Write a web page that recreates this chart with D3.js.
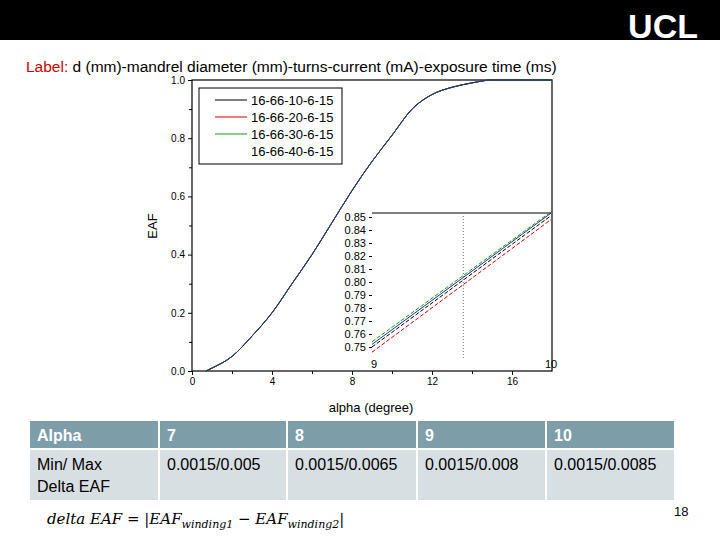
<!DOCTYPE html>
<html><head><meta charset="utf-8">
<script src="https://cdn.jsdelivr.net/npm/d3@7"></script>
<style>body{margin:0;background:#fff;font-family:Arial,"Liberation Sans",sans-serif}</style>
</head><body>
<svg id="slide" width="720" height="540"></svg>
<script>
// main curve (all four windings overlap)
const alpha = [0.7, 1, 2, 3, 4, 5, 6, 7, 8, 9, 10, 11, 12, 13, 14, 15, 16, 18];
const eaf   = [0, 0.01, 0.05, 0.12, 0.2, 0.3, 0.4, 0.51, 0.62, 0.72, 0.81, 0.9, 0.95, 0.975, 0.99, 1.0, 1.0, 1.0];
const seriesNames = ["16-66-10-6-15", "16-66-20-6-15", "16-66-30-6-15", "16-66-40-6-15"];
const seriesColors = ["#000000", "#cc0000", "#00aa00", "#2a2a9a"];
// inset: zoom between alpha 9 and 10
const insetX = [9, 10];
const insetY = [[0.750, 0.851], [0.746, 0.848], [0.754, 0.854], [0.752, 0.853]];
const tableHead = ["Alpha", "7", "8", "9", "10"];
const tableRow = ["Min/ Max\nDelta EAF", "0.0015/0.005", "0.0015/0.0065", "0.0015/0.008", "0.0015/0.0085"];

const svg = d3.select("#slide");

/* header bar */
svg.append("rect").attr("width", 720).attr("height", 40).attr("fill", "#000");
svg.append("text").attr("x", 698).attr("y", 38).attr("text-anchor", "end")
    .attr("fill", "#fff").style("font-size", "34px").style("font-weight", "bold").text("UCL");
svg.append("text").attr("x", 26).attr("y", 72)
    .style("font-size", "15.5px")
    .call(t => {
        t.append("tspan").attr("fill", "#cc0000").text("Label:");
        t.append("tspan").text(" d (mm)-mandrel diameter (mm)-turns-current (mA)-exposure time (ms)");
    });

/* main chart */
const x = d3.scaleLinear().domain([0, 18]).range([192, 552]);
const y = d3.scaleLinear().domain([0, 1]).range([371, 80]);
const g = svg.append("g").style("font-family", "Arial").style("font-size", "11px");

g.append("g").attr("transform", "translate(0,371)")
    .call(d3.axisBottom(x).tickValues([0, 4, 8, 12, 16]).tickSize(4))
    .call(a => a.select(".domain").remove());
g.append("g").attr("transform", "translate(192,0)")
    .call(d3.axisLeft(y).tickValues([0, 0.2, 0.4, 0.6, 0.8, 1.0]).tickFormat(d3.format(".1f")).tickSize(4))
    .call(a => a.select(".domain").remove());
g.append("g").attr("transform", "translate(0,371)")
    .call(d3.axisBottom(x).tickValues([2, 6, 10, 14]).tickSize(3).tickFormat(""))
    .call(a => a.select(".domain").remove());
g.append("g").attr("transform", "translate(192,0)")
    .call(d3.axisLeft(y).tickValues([0.1, 0.3, 0.5, 0.7, 0.9]).tickSize(3).tickFormat(""))
    .call(a => a.select(".domain").remove());
g.append("rect").attr("x", 192).attr("y", 80).attr("width", 360).attr("height", 291)
    .attr("fill", "none").attr("stroke", "#000").attr("stroke-width", 1.2);

const line = d3.line().x((d, i) => x(alpha[i])).y(d => y(d)).curve(d3.curveMonotoneX);
seriesColors.forEach(c => {
    g.append("path").datum(eaf).attr("d", line).attr("fill", "none")
        .attr("stroke", c).attr("stroke-width", 1);
});

g.append("text").attr("x", 371).attr("y", 412).attr("text-anchor", "middle")
    .style("font-size", "13px").text("alpha (degree)");
g.append("text").attr("transform", "translate(157,226) rotate(-90)").attr("text-anchor", "middle")
    .style("font-size", "13px").text("EAF");

/* legend */
const lg = g.append("g").attr("transform", "translate(199,88)");
lg.append("rect").attr("width", 143).attr("height", 76).attr("fill", "#fff").attr("stroke", "#000");
seriesNames.forEach((n, i) => {
    lg.append("line").attr("x1", 16).attr("x2", 48).attr("y1", 12 + i * 17).attr("y2", 12 + i * 17)
        .attr("stroke", i < 3 ? seriesColors[i] : "none");
    lg.append("text").attr("x", 52).attr("y", 17 + i * 17).style("font-size", "13px").text(n);
});

/* inset */
const ix = d3.scaleLinear().domain([9, 10]).range([372, 551]);
const iy = d3.scaleLinear().domain([0.75, 0.85]).range([347, 217]);
const ig = g.append("g");
ig.append("rect").attr("x", 372).attr("y", 213).attr("width", 179).attr("height", 145).attr("fill", "#fff");
ig.append("line").attr("x1", 372).attr("x2", 551).attr("y1", 213).attr("y2", 213).attr("stroke", "#000");
ig.append("g").attr("transform", "translate(372,0)")
    .call(d3.axisLeft(iy).ticks(10).tickFormat(d3.format(".2f")).tickSize(3))
    .call(a => a.select(".domain").remove())
    .selectAll("text").style("font-size", "11px");
ig.append("text").attr("x", 374).attr("y", 368).attr("text-anchor", "middle").text("9");
ig.append("text").attr("x", 551).attr("y", 368).attr("text-anchor", "middle").text("10");
ig.append("line").attr("x1", ix(9.51)).attr("x2", ix(9.51)).attr("y1", 213).attr("y2", 358)
    .attr("stroke", "#777").attr("stroke-dasharray", "1,2");
insetY.forEach((s, k) => {
    ig.append("path").datum(s)
        .attr("d", d3.line().x((d, i) => ix(insetX[i])).y(d => iy(d)))
        .attr("fill", "none").attr("stroke", seriesColors[k]).attr("stroke-width", 1)
        .attr("stroke-dasharray", k === 3 ? null : "4,2");
});

/* table */
const cols = [30, 160, 288, 418, 547, 676];
const tb = svg.append("g").style("font-family", "Arial");
tableHead.forEach((h, i) => {
    tb.append("rect").attr("x", cols[i]).attr("y", 421).attr("width", cols[i + 1] - cols[i] - 2).attr("height", 27).attr("fill", "#7d9ea8");
    tb.append("text").attr("x", cols[i] + 7).attr("y", 441).attr("fill", "#fff")
        .style("font-size", "16px").style("font-weight", "bold").text(h);
    tb.append("rect").attr("x", cols[i]).attr("y", 450).attr("width", cols[i + 1] - cols[i] - 2).attr("height", 50).attr("fill", "#d8dfe2");
    tableRow[i].split("\n").forEach((s, j) => {
        tb.append("text").attr("x", cols[i] + 7).attr("y", 470 + j * 22).style("font-size", "16px").text(s);
    });
});

/* formula */
svg.append("text").attr("x", 47).attr("y", 524).style("font-family", "DejaVu Serif, serif")
    .style("font-style", "italic").style("font-size", "15px")
    .call(t => {
        t.append("tspan").text("delta EAF = |EAF");
        t.append("tspan").attr("dy", 4).style("font-size", "11px").text("winding1");
        t.append("tspan").attr("dy", -4).text(" − EAF");
        t.append("tspan").attr("dy", 4).style("font-size", "11px").text("winding2");
        t.append("tspan").attr("dy", -4).text("|");
    });
svg.append("text").attr("x", 674).attr("y", 516).style("font-size", "13px").text("18");
</script>
</body></html>
